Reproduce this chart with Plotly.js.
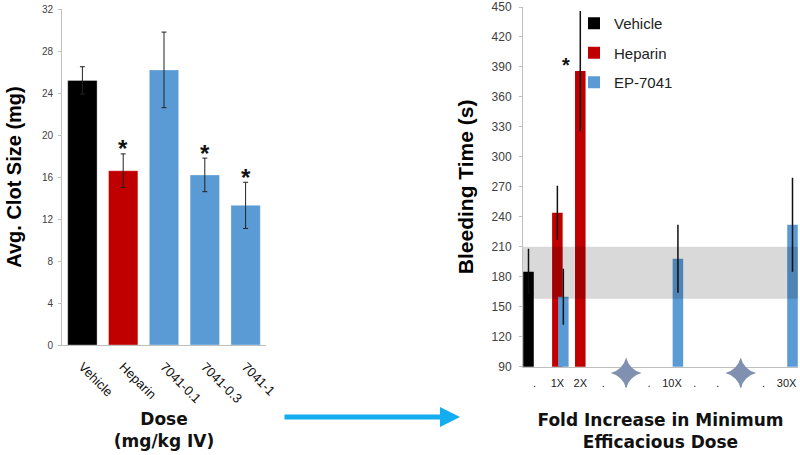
<!DOCTYPE html>
<html>
<head>
<meta charset="utf-8">
<script src="https://cdn.plot.ly/plotly-3.0.1.min.js"></script>
<style>html,body{margin:0;padding:0;background:#fff;}#chart{width:800px;height:455px;}</style>
</head>
<body>
<div id="chart"></div>
<script>
// ---------- Left panel: clot size ----------
const doseLabels = ['Vehicle', 'Heparin', '7041-0.1', '7041-0.3', '7041-1'];
const clotMean   = [25.2, 16.6, 26.2, 16.2, 13.3];
const clotErr    = [1.3, 1.6, 3.6, 1.6, 2.2];
const clotSignif = [false, true, false, true, true];

// ---------- Right panel: bleeding time ----------
const foldLabels   = ['.', '1X', '2X', '.', '.', '.', '10X', '.', '.', '.', '.', '30X'];
const vehicleX     = [0];
const vehicleBT    = [185];
const vehicleErr   = [23];
const heparinX     = [1, 2];
const heparinBT    = [244, 386];
const heparinErr   = [27, 60];
const epX          = [1, 6, 11];
const epBT         = [160, 198, 232];
const epErr        = [28, 34, 47];
const heparinSignif = [false, true];
const axisBreaks   = [4, 9];
const normalBand   = [158, 210];

const C_BLACK = '#000000', C_RED = '#c00000', C_BLUE = '#5b9bd5';
const doseColors = [C_BLACK, C_RED, C_BLUE, C_BLUE, C_BLUE];
const TICKFONT = 'Liberation Sans Narrow, Liberation Sans, Arial, sans-serif';
const TITLEFONT = 'Liberation Sans, Arial, sans-serif';
const GEOFONT = 'DejaVu Sans, Verdana, sans-serif';

const traces = [];

traces.push({
  type: 'bar', x: doseLabels, y: clotMean, xaxis: 'x', yaxis: 'y',
  marker: {color: doseColors, line: {color: 'rgba(255,255,255,0.35)', width: 1}},
  error_y: {type: 'data', array: clotErr, visible: true, color: '#222', thickness: 1, width: 2.5},
  showlegend: false, hoverinfo: 'x+y'
});

const barW = 0.46;
traces.push({
  type: 'bar', name: 'Vehicle', x: vehicleX, y: vehicleBT, xaxis: 'x2', yaxis: 'y2',
  width: barW, offset: -0.49, marker: {color: C_BLACK}, legendgroup: 'a',
  error_y: {type: 'data', array: vehicleErr, visible: true, color: '#111', thickness: 1.5, width: 0}
});
traces.push({
  type: 'bar', name: 'Heparin', x: heparinX, y: heparinBT, xaxis: 'x2', yaxis: 'y2',
  width: barW, offset: -0.23, marker: {color: C_RED}, legendgroup: 'b',
  error_y: {type: 'data', array: heparinErr, visible: true, color: '#111', thickness: 1.5, width: 0}
});
traces.push({
  type: 'bar', name: 'EP-7041', x: epX, y: epBT, xaxis: 'x2', yaxis: 'y2',
  width: barW, offset: 0.03, marker: {color: C_BLUE}, legendgroup: 'c',
  error_y: {type: 'data', array: epErr, visible: true, color: '#111', thickness: 1.5, width: 0}
});
const yRange2 = [90, 450];
// axis-break symbols, drawn on a hidden strip axis just below the bleeding-time axis
traces.push({
  type: 'scatter', mode: 'markers', x: axisBreaks, y: axisBreaks.map(() => 0.5),
  xaxis: 'x2', yaxis: 'y3', cliponaxis: false,
  marker: {symbol: 'star-diamond', size: 22, color: '#8090b0', line: {width: 0}},
  showlegend: false, hoverinfo: 'skip'
});

const annotations = [];
doseLabels.forEach((d, i) => {
  if (clotSignif[i]) annotations.push({
    xref: 'x', yref: 'y', x: d, y: clotMean[i] + clotErr[i], text: '<b>*</b>', showarrow: false,
    yanchor: 'middle', yshift: 5, font: {family: 'Liberation Sans, Arial', size: 24, color: '#111'}
  });
});
heparinX.forEach((x, i) => {
  if (heparinSignif[i]) annotations.push({
    xref: 'x2', yref: 'y2', x: x, y: heparinBT[i], text: '<b>*</b>', showarrow: false,
    xshift: -14, yshift: 6, font: {family: 'Liberation Sans, Arial', size: 20, color: '#111'}
  });
});
// arrow between panels
annotations.push({
  xref: 'paper', yref: 'paper', x: 460 / 800, y: 1 - 417 / 455, ax: -177, ay: 0,
  axref: 'pixel', ayref: 'pixel', text: '', showarrow: true,
  arrowhead: 2, arrowsize: 0.8, arrowwidth: 5, arrowcolor: '#12aef0'
});

const layout = {
  width: 800, height: 455,
  margin: {l: 0, r: 0, t: 0, b: 0},
  paper_bgcolor: '#fff', plot_bgcolor: 'rgba(0,0,0,0)',
  showlegend: true,
  barmode: 'overlay',
  bargap: 0.28,
  xaxis: {
    domain: [62 / 800, 266 / 800], anchor: 'y', type: 'category',
    showline: true, linecolor: '#bfbfbf', linewidth: 1, ticks: '', showgrid: false,
    tickangle: 45, ticklabelstandoff: 8, tickfont: {family: TICKFONT, size: 13, color: '#111'},
    title: {text: '<b>Dose</b><br><b>(mg/kg IV)</b>', standoff: 7,
            font: {family: GEOFONT, size: 17, color: '#111'}},
    automargin: false
  },
  yaxis: {
    domain: [1 - 345 / 455, 1 - 9 / 455], anchor: 'x', range: [0, 32], dtick: 4,
    showline: true, linecolor: '#bfbfbf', linewidth: 1, ticks: 'outside', ticklen: 3,
    tickcolor: '#bfbfbf', showgrid: false, zeroline: false, ticklabelstandoff: 3,
    tickfont: {family: TICKFONT, size: 10, color: '#404040'},
    title: {text: '<b>Avg. Clot Size (mg)</b>', standoff: 14,
            font: {family: TITLEFONT, size: 20, color: '#000'}},
    automargin: false
  },
  xaxis2: {
    domain: [523 / 800, 798 / 800], anchor: 'y2', range: [-0.5, foldLabels.length - 0.5],
    tickmode: 'array', tickvals: foldLabels.map((d, i) => i), ticktext: foldLabels,
    showline: true, linecolor: '#bfbfbf', linewidth: 1, ticks: '', showgrid: false,
    zeroline: false, tickangle: 0, ticklabelstandoff: 6,
    tickfont: {family: TICKFONT, size: 11, color: '#222'},
    title: {text: '<b>Fold Increase in Minimum</b><br><b>Efficacious Dose</b>', standoff: 26,
            font: {family: GEOFONT, size: 17, color: '#111'}},
    automargin: false
  },
  yaxis2: {
    domain: [1 - 366.7 / 455, 1 - 7 / 455], anchor: 'x2', range: yRange2, dtick: 30,
    showline: true, linecolor: '#bfbfbf', linewidth: 1, ticks: 'outside', ticklen: 3,
    tickcolor: '#bfbfbf', showgrid: false, zeroline: false, ticklabelstandoff: 5,
    ticklabeloverflow: 'allow',
    tickfont: {family: TICKFONT, size: 12, color: '#404040'},
    title: {text: '<b>Bleeding Time (s)</b>', standoff: 12,
            font: {family: TITLEFONT, size: 21, color: '#000'}},
    automargin: false
  },
  yaxis3: {
    domain: [1 - 385 / 455, 1 - 361 / 455], anchor: 'x2', range: [0, 1],
    visible: false, showgrid: false, zeroline: false, fixedrange: true
  },
  legend: {
    x: 574 / 800, y: 1 - 7 / 455, xanchor: 'left', yanchor: 'top',
    bgcolor: 'rgba(0,0,0,0)', tracegroupgap: 7,
    font: {family: TICKFONT, size: 15, color: '#222'}
  },
  shapes: [{
    type: 'rect', xref: 'x2 domain', yref: 'y2', x0: 0, x1: 1,
    y0: normalBand[0], y1: normalBand[1], layer: 'above',
    fillcolor: 'rgba(0,0,0,0.15)', line: {width: 0}
  }],
  annotations: annotations
};

Plotly.newPlot('chart', traces, layout, {displayModeBar: false, staticPlot: true});
</script>
</body>
</html>
